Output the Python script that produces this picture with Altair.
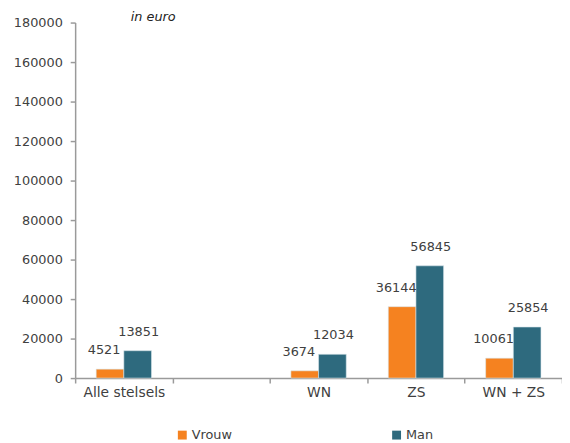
import altair as alt
import pandas as pd

categories = ["Alle stelsels", " ", "WN", "ZS", "WN + ZS"]
data_categories = ["Alle stelsels", "WN", "ZS", "WN + ZS"]
vrouw = [4521, 3674, 36144, 10061]
man = [13851, 12034, 56845, 25854]
series = ["Vrouw", "Man"]
colors = ["#F58220", "#2E6A7E"]
y_ticks = [0, 20000, 40000, 60000, 80000, 100000, 120000, 140000, 160000, 180000]

rows = []
for c, v, m in zip(data_categories, vrouw, man):
    rows.append({"cat": c, "geslacht": "Vrouw", "waarde": v})
    rows.append({"cat": c, "geslacht": "Man", "waarde": m})
df = pd.DataFrame(rows)

FONT = "DejaVu Sans"
GREY = "#9A9A9A"
TXT = "#404040"

x_enc = alt.X(
    "cat:N",
    sort=categories,
    scale=alt.Scale(domain=categories, paddingInner=0, paddingOuter=0),
    axis=alt.Axis(
        title=None,
        labelAngle=0,
        tickBand="extent",
        domainColor=GREY,
        domainWidth=1.5,
        tickColor=GREY,
        tickWidth=1.5,
        tickSize=5,
        labelPadding=3,
        labelFont=FONT,
        labelFontSize=14,
        labelColor=TXT,
        grid=False,
    ),
)
xoff = alt.XOffset(
    "geslacht:N",
    sort=series,
    scale=alt.Scale(domain=series, paddingInner=0, paddingOuter=0.76),
)
y_enc = alt.Y(
    "waarde:Q",
    scale=alt.Scale(domain=[0, 180000], nice=False),
    axis=alt.Axis(
        title=None,
        values=y_ticks,
        tickCount=10,
        format="d",
        labelOverlap=False,
        grid=False,
        domainColor=GREY,
        domainWidth=1.5,
        tickColor=GREY,
        tickWidth=1.5,
        tickSize=5,
        labelPadding=8,
        labelFont=FONT,
        labelFontSize=13,
        labelColor=TXT,
    ),
)
color_enc = alt.Color(
    "geslacht:N",
    sort=series,
    scale=alt.Scale(domain=series, range=colors),
    legend=alt.Legend(
        title=None,
        orient="none",
        direction="horizontal",
        legendX=102,
        legendY=411,
        symbolType="square",
        symbolSize=81,
        symbolStrokeWidth=0,
        labelOffset=3,
        columnPadding=160,
        labelFont=FONT,
        labelFontSize=13,
        labelColor=TXT,
    ),
)

base = alt.Chart(df)
bars = base.mark_bar(stroke="#D8E6EA", strokeWidth=0.6).encode(
    x=x_enc, xOffset=xoff, y=y_enc, color=color_enc
)
labels_v = base.transform_filter(alt.datum.geslacht == "Vrouw").mark_text(
    baseline="bottom", dy=-12, dx=-6, font=FONT, fontSize=13, color=TXT
).encode(x=x_enc, xOffset=xoff, y=y_enc, text="waarde:Q")
labels_m = base.transform_filter(alt.datum.geslacht == "Man").mark_text(
    baseline="bottom", dy=-12, dx=1, font=FONT, fontSize=13, color=TXT
).encode(x=x_enc, xOffset=xoff, y=y_enc, text="waarde:Q")
title = alt.Chart(pd.DataFrame({"t": ["in euro"]})).mark_text(
    font=FONT, fontSize=13, fontStyle="italic", color="#222222", baseline="alphabetic"
).encode(x=alt.value(79), y=alt.value(-2), text="t:N")

chart = (
    alt.layer(bars, labels_v, labels_m, title)
    .properties(
        width=493,
        height=360,
        background="white",
        autosize=alt.AutoSizeParams(type="none"),
        padding={"left": 68, "top": 12, "right": 0, "bottom": 63},
    )
    .configure_view(strokeWidth=0, stroke="transparent")
    .configure_axis(grid=False)
)

chart.save("out.html", embed_options={"renderer": "svg", "actions": False})
